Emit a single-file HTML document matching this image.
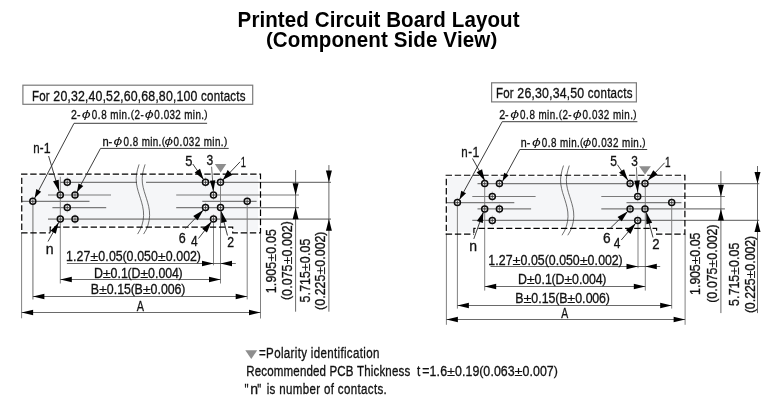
<!DOCTYPE html>
<html lang="en"><head><meta charset="utf-8"><title>Printed Circuit Board Layout</title>
<style>
html,body{margin:0;padding:0;background:#fff;}
body{width:774px;height:406px;overflow:hidden;}
#wrap{width:774px;height:406px;will-change:transform;}
svg{display:block;}
text{font-family:"Liberation Sans",sans-serif;white-space:pre;}
</style></head><body><div id="wrap">
<svg width="774" height="406" viewBox="0 0 774 406">
<rect width="774" height="406" fill="#fff"/>
<text transform="translate(237.59,26.55) scale(0.9700,1.000)" x="0.00 14.22 22.55 28.52 41.54 48.68 60.55 73.58 79.55 94.94 100.91 109.24 121.11 134.13 140.10 147.24 153.21 168.60 181.63 193.50 201.82 214.85 220.82 233.85 245.72 257.59 270.62 283.65" font-size="21.20" font-weight="bold" fill="#000">Printed Circuit Board Layout</text>
<text transform="translate(265.89,45.36) scale(0.9700,0.870)" x="0.00" font-size="21.20" font-weight="bold" fill="#000">(</text><text transform="translate(272.83,47.10) scale(0.9700,1.000)" x="0.00 15.40 28.44 47.38 60.42 73.46 86.50 98.38 111.42 118.57 124.55 138.78 144.76 157.80 169.68 175.66 189.89 195.87 207.75" font-size="21.20" font-weight="bold" fill="#000">Component Side View</text><text transform="translate(490.43,45.36) scale(0.9700,0.870)" x="0.00" font-size="21.20" font-weight="bold" fill="#000">)</text>
<path d="M22.95,175.70 H258.10 V230.70 H233.70 V224.95 H49.40 V230.70 H22.95 Z" fill="#f5f6f8"/>
<line x1="60.00" y1="182.30" x2="137.00" y2="182.30" stroke="#7a7a7a" stroke-width="1.15" />
<line x1="146.00" y1="182.30" x2="331.00" y2="182.30" stroke="#7a7a7a" stroke-width="1.15" />
<line x1="48.00" y1="195.00" x2="111.00" y2="195.00" stroke="#7a7a7a" stroke-width="1.15" />
<line x1="176.20" y1="195.00" x2="299.00" y2="195.00" stroke="#7a7a7a" stroke-width="1.15" />
<line x1="22.00" y1="201.30" x2="89.50" y2="201.30" stroke="#7a7a7a" stroke-width="1.15" />
<line x1="202.30" y1="201.30" x2="256.60" y2="201.30" stroke="#7a7a7a" stroke-width="1.15" />
<line x1="52.40" y1="207.60" x2="106.20" y2="207.60" stroke="#7a7a7a" stroke-width="1.15" />
<line x1="176.20" y1="207.60" x2="299.00" y2="207.60" stroke="#7a7a7a" stroke-width="1.15" />
<line x1="48.00" y1="219.10" x2="331.00" y2="219.10" stroke="#999" stroke-width="1.6" />
<line x1="60.30" y1="176.80" x2="60.30" y2="283.50" stroke="#7a7a7a" stroke-width="0.95" />
<line x1="32.90" y1="201.30" x2="32.90" y2="299.40" stroke="#8c8c8c" stroke-width="1.3" />
<line x1="21.60" y1="233.00" x2="21.60" y2="318.30" stroke="#7a7a7a" stroke-width="0.95" />
<line x1="213.50" y1="219.10" x2="213.50" y2="265.30" stroke="#7a7a7a" stroke-width="0.95" />
<line x1="220.50" y1="182.30" x2="220.50" y2="283.50" stroke="#7a7a7a" stroke-width="0.95" />
<line x1="247.20" y1="201.30" x2="247.20" y2="299.40" stroke="#7a7a7a" stroke-width="0.95" />
<line x1="260.50" y1="233.00" x2="260.50" y2="318.50" stroke="#7a7a7a" stroke-width="0.95" />
<path d="M139.10,164.40 C136.80,171.10 135.60,177.10 136.40,183.10 S139.10,194.10 140.50,198.60 S143.80,209.10 143.60,215.60 S141.40,228.60 137.60,234.10" fill="none" stroke="#333" stroke-width="0.7"/>
<path d="M145.10,164.40 C142.80,171.10 141.60,177.10 142.40,183.10 S145.10,194.10 146.50,198.60 S149.80,209.10 149.60,215.60 S147.40,228.60 143.60,234.10" fill="none" stroke="#333" stroke-width="0.7"/>
<path d="M21.05,174.1 H260.5 V232.8 H232.7 V227.05 H50.2 V232.8" fill="none" stroke="#000" stroke-width="1.2" stroke-dasharray="6.4 2.764"/>
<path d="M21.15,232.8 H50.2" fill="none" stroke="#000" stroke-width="1.2" stroke-dasharray="6.4 2.764"/>
<path d="M21.75,177.7 V232.8" fill="none" stroke="#000" stroke-width="1.2" stroke-dasharray="6.4 2.764"/>
<line x1="67.30" y1="177.40" x2="67.30" y2="187.20" stroke="#a0a0a0" stroke-width="0.6"/>
<circle cx="67.30" cy="182.30" r="3.0" fill="#fff" fill-opacity="0.55" stroke="#0a0a0a" stroke-width="1.5"/>
<path d="M65.30,182.30h4M67.30,180.30v4" stroke="#2a2a2a" stroke-width="0.7" fill="none"/>
<line x1="60.30" y1="190.10" x2="60.30" y2="199.90" stroke="#a0a0a0" stroke-width="0.6"/>
<circle cx="60.30" cy="195.00" r="3.0" fill="#fff" fill-opacity="0.55" stroke="#0a0a0a" stroke-width="1.5"/>
<path d="M58.30,195.00h4M60.30,193.00v4" stroke="#2a2a2a" stroke-width="0.7" fill="none"/>
<line x1="75.00" y1="190.10" x2="75.00" y2="199.90" stroke="#a0a0a0" stroke-width="0.6"/>
<circle cx="75.00" cy="195.00" r="3.0" fill="#fff" fill-opacity="0.55" stroke="#0a0a0a" stroke-width="1.5"/>
<path d="M73.00,195.00h4M75.00,193.00v4" stroke="#2a2a2a" stroke-width="0.7" fill="none"/>
<line x1="67.30" y1="202.70" x2="67.30" y2="212.50" stroke="#a0a0a0" stroke-width="0.6"/>
<circle cx="67.30" cy="207.60" r="3.0" fill="#fff" fill-opacity="0.55" stroke="#0a0a0a" stroke-width="1.5"/>
<path d="M65.30,207.60h4M67.30,205.60v4" stroke="#2a2a2a" stroke-width="0.7" fill="none"/>
<line x1="60.30" y1="214.20" x2="60.30" y2="224.00" stroke="#a0a0a0" stroke-width="0.6"/>
<circle cx="60.30" cy="219.10" r="3.0" fill="#fff" fill-opacity="0.55" stroke="#0a0a0a" stroke-width="1.5"/>
<path d="M58.30,219.10h4M60.30,217.10v4" stroke="#2a2a2a" stroke-width="0.7" fill="none"/>
<line x1="75.00" y1="214.20" x2="75.00" y2="224.00" stroke="#a0a0a0" stroke-width="0.6"/>
<circle cx="75.00" cy="219.10" r="3.0" fill="#fff" fill-opacity="0.55" stroke="#0a0a0a" stroke-width="1.5"/>
<path d="M73.00,219.10h4M75.00,217.10v4" stroke="#2a2a2a" stroke-width="0.7" fill="none"/>
<line x1="32.80" y1="196.40" x2="32.80" y2="206.20" stroke="#a0a0a0" stroke-width="0.6"/>
<circle cx="32.80" cy="201.30" r="3.0" fill="#fff" fill-opacity="0.55" stroke="#0a0a0a" stroke-width="1.5"/>
<path d="M30.80,201.30h4M32.80,199.30v4" stroke="#2a2a2a" stroke-width="0.7" fill="none"/>
<line x1="205.50" y1="177.40" x2="205.50" y2="187.20" stroke="#a0a0a0" stroke-width="0.6"/>
<circle cx="205.50" cy="182.30" r="3.0" fill="#fff" fill-opacity="0.55" stroke="#0a0a0a" stroke-width="1.5"/>
<path d="M203.50,182.30h4M205.50,180.30v4" stroke="#2a2a2a" stroke-width="0.7" fill="none"/>
<line x1="220.50" y1="177.40" x2="220.50" y2="187.20" stroke="#a0a0a0" stroke-width="0.6"/>
<circle cx="220.50" cy="182.30" r="3.0" fill="#fff" fill-opacity="0.55" stroke="#0a0a0a" stroke-width="1.5"/>
<path d="M218.50,182.30h4M220.50,180.30v4" stroke="#2a2a2a" stroke-width="0.7" fill="none"/>
<line x1="213.50" y1="190.10" x2="213.50" y2="199.90" stroke="#a0a0a0" stroke-width="0.6"/>
<circle cx="213.50" cy="195.00" r="3.0" fill="#fff" fill-opacity="0.55" stroke="#0a0a0a" stroke-width="1.5"/>
<path d="M211.50,195.00h4M213.50,193.00v4" stroke="#2a2a2a" stroke-width="0.7" fill="none"/>
<line x1="205.50" y1="202.70" x2="205.50" y2="212.50" stroke="#a0a0a0" stroke-width="0.6"/>
<circle cx="205.50" cy="207.60" r="3.0" fill="#fff" fill-opacity="0.55" stroke="#0a0a0a" stroke-width="1.5"/>
<path d="M203.50,207.60h4M205.50,205.60v4" stroke="#2a2a2a" stroke-width="0.7" fill="none"/>
<line x1="220.50" y1="202.70" x2="220.50" y2="212.50" stroke="#a0a0a0" stroke-width="0.6"/>
<circle cx="220.50" cy="207.60" r="3.0" fill="#fff" fill-opacity="0.55" stroke="#0a0a0a" stroke-width="1.5"/>
<path d="M218.50,207.60h4M220.50,205.60v4" stroke="#2a2a2a" stroke-width="0.7" fill="none"/>
<line x1="213.50" y1="214.20" x2="213.50" y2="224.00" stroke="#a0a0a0" stroke-width="0.6"/>
<circle cx="213.50" cy="219.10" r="3.0" fill="#fff" fill-opacity="0.55" stroke="#0a0a0a" stroke-width="1.5"/>
<path d="M211.50,219.10h4M213.50,217.10v4" stroke="#2a2a2a" stroke-width="0.7" fill="none"/>
<line x1="247.20" y1="196.40" x2="247.20" y2="206.20" stroke="#a0a0a0" stroke-width="0.6"/>
<circle cx="247.20" cy="201.30" r="3.0" fill="#fff" fill-opacity="0.55" stroke="#0a0a0a" stroke-width="1.5"/>
<path d="M245.20,201.30h4M247.20,199.30v4" stroke="#2a2a2a" stroke-width="0.7" fill="none"/>
<polyline points="207.10,123.30 74.00,123.30 34.70,198.00" fill="none" stroke="#333" stroke-width="0.95"/>
<polygon points="34.70,198.00 36.27,189.11 41.14,191.67" fill="#000"/>
<polyline points="228.70,148.40 100.50,148.40 77.00,192.00" fill="none" stroke="#333" stroke-width="0.95"/>
<polygon points="77.00,192.00 78.47,183.48 83.31,186.09" fill="#000"/>
<polyline points="48.60,156.00 59.20,191.60" fill="none" stroke="#333" stroke-width="0.95"/>
<polygon points="59.20,191.60 53.06,181.32 58.72,179.64" fill="#000"/>
<polyline points="192.80,164.00 203.60,179.60" fill="none" stroke="#333" stroke-width="0.95"/>
<polygon points="203.60,179.60 194.67,172.41 200.01,168.71" fill="#000"/>
<polyline points="211.60,166.70 213.40,191.60" fill="none" stroke="#444" stroke-width="0.8"/>
<polygon points="213.40,191.60 209.85,180.63 215.34,180.23" fill="#000"/>
<polyline points="240.10,161.80 222.80,180.00" fill="none" stroke="#333" stroke-width="0.95"/>
<polygon points="222.80,180.00 227.64,169.97 232.57,174.66" fill="#000"/>
<polyline points="48.00,241.50 58.80,222.20" fill="none" stroke="#333" stroke-width="0.95"/>
<polygon points="58.80,222.20 55.80,233.70 50.57,230.77" fill="#000"/>
<polyline points="185.50,228.50 203.40,209.90" fill="none" stroke="#333" stroke-width="0.95"/>
<polygon points="203.40,209.90 197.59,220.27 193.26,216.11" fill="#000"/>
<polyline points="198.50,238.50 211.60,221.60" fill="none" stroke="#333" stroke-width="0.95"/>
<polygon points="211.60,221.60 206.93,232.53 202.18,228.85" fill="#000"/>
<polyline points="227.50,235.50 221.20,211.20" fill="none" stroke="#333" stroke-width="0.95"/>
<polygon points="221.20,211.20 226.99,221.58 221.18,223.08" fill="#000"/>
<polygon points="214.8,164.0 226.3,164.0 220.55,172.6" fill="#8e8e8e"/>
<line x1="60.30" y1="279.50" x2="220.50" y2="279.50" stroke="#444" stroke-width="0.8" />
<polygon points="60.30,279.50 71.80,276.70 71.80,282.30" fill="#000"/>
<polygon points="220.50,279.50 209.00,282.30 209.00,276.70" fill="#000"/>
<line x1="32.90" y1="296.50" x2="247.20" y2="296.50" stroke="#444" stroke-width="0.8" />
<polygon points="32.90,296.50 44.40,293.70 44.40,299.30" fill="#000"/>
<polygon points="247.20,296.50 235.70,299.30 235.70,293.70" fill="#000"/>
<line x1="21.60" y1="312.50" x2="260.50" y2="312.50" stroke="#444" stroke-width="0.8" />
<polygon points="21.60,312.50 33.10,309.70 33.10,315.30" fill="#000"/>
<polygon points="260.50,312.50 249.00,315.30 249.00,309.70" fill="#000"/>
<rect x="22.9" y="85.2" width="229.80" height="19.10" fill="#fff" stroke="#7a7a7a" stroke-width="1.2"/>
<line x1="66.90" y1="263.50" x2="213.50" y2="263.50" stroke="#444" stroke-width="0.8" />
<polygon points="213.50,263.50 202.00,266.30 202.00,260.70" fill="#000"/>
<line x1="213.50" y1="263.50" x2="235.80" y2="263.50" stroke="#444" stroke-width="0.8" />
<polygon points="220.50,263.50 232.00,260.70 232.00,266.30" fill="#000"/>
<line x1="295.60" y1="170.00" x2="295.60" y2="311.70" stroke="#444" stroke-width="0.8" />
<polygon points="295.60,195.00 292.60,183.30 298.60,183.30" fill="#000"/>
<polygon points="295.60,207.60 298.60,219.30 292.60,219.30" fill="#000"/>
<line x1="328.90" y1="165.10" x2="328.90" y2="311.70" stroke="#444" stroke-width="0.8" />
<polygon points="328.90,182.30 325.90,170.60 331.90,170.60" fill="#000"/>
<polygon points="328.90,219.10 331.90,230.80 325.90,230.80" fill="#000"/>
<text transform="translate(31.97,101.00) scale(0.7600,1.000)" x="0.00 9.56 18.28 23.62" font-size="15.20" fill="#111" stroke="#111" stroke-width="0.33">For </text><text transform="translate(53.33,101.00) scale(0.8132,1.000)" x="0.00 8.71" font-size="15.20" fill="#111" stroke="#111" stroke-width="0.33">20</text><text transform="translate(67.50,101.00) scale(0.7600,1.000)" x="0.00" font-size="15.20" fill="#111" stroke="#111" stroke-width="0.33">,</text><text transform="translate(70.91,101.00) scale(0.8132,1.000)" x="0.00 8.71" font-size="15.20" fill="#111" stroke="#111" stroke-width="0.33">32</text><text transform="translate(85.07,101.00) scale(0.7600,1.000)" x="0.00" font-size="15.20" fill="#111" stroke="#111" stroke-width="0.33">,</text><text transform="translate(88.49,101.00) scale(0.8132,1.000)" x="0.00 8.71" font-size="15.20" fill="#111" stroke="#111" stroke-width="0.33">40</text><text transform="translate(102.65,101.00) scale(0.7600,1.000)" x="0.00" font-size="15.20" fill="#111" stroke="#111" stroke-width="0.33">,</text><text transform="translate(106.07,101.00) scale(0.8132,1.000)" x="0.00 8.71" font-size="15.20" fill="#111" stroke="#111" stroke-width="0.33">52</text><text transform="translate(120.23,101.00) scale(0.7600,1.000)" x="0.00" font-size="15.20" fill="#111" stroke="#111" stroke-width="0.33">,</text><text transform="translate(123.65,101.00) scale(0.8132,1.000)" x="0.00 8.71" font-size="15.20" fill="#111" stroke="#111" stroke-width="0.33">60</text><text transform="translate(137.81,101.00) scale(0.7600,1.000)" x="0.00" font-size="15.20" fill="#111" stroke="#111" stroke-width="0.33">,</text><text transform="translate(141.23,101.00) scale(0.8132,1.000)" x="0.00 8.71" font-size="15.20" fill="#111" stroke="#111" stroke-width="0.33">68</text><text transform="translate(155.39,101.00) scale(0.7600,1.000)" x="0.00" font-size="15.20" fill="#111" stroke="#111" stroke-width="0.33">,</text><text transform="translate(158.81,101.00) scale(0.8132,1.000)" x="0.00 8.71" font-size="15.20" fill="#111" stroke="#111" stroke-width="0.33">80</text><text transform="translate(172.97,101.00) scale(0.7600,1.000)" x="0.00" font-size="15.20" fill="#111" stroke="#111" stroke-width="0.33">,</text><text transform="translate(176.38,101.00) scale(0.8132,1.000)" x="0.00 8.71 17.42" font-size="15.20" fill="#111" stroke="#111" stroke-width="0.33">100</text><text transform="translate(197.63,101.00) scale(0.7600,1.000)" x="0.00 4.50 12.37 21.09 29.82 34.31 43.04 50.91 55.41" font-size="15.20" fill="#111" stroke="#111" stroke-width="0.33"> contacts</text>
<text transform="translate(71.09,119.10) scale(0.8571,1)" font-size="12.30" font-weight="normal" fill="#111" stroke="#111" stroke-width="0.33">2-</text><text transform="translate(81.78,117.90) scale(1.4354,1)" font-size="11.19" font-weight="normal" font-style="italic" fill="#111">ϕ</text><text transform="translate(91.69,119.10) scale(0.8000,1.000)" x="0.00 7.68 11.93 19.34 23.32 34.13 37.42 44.83" font-size="12.30" fill="#111" stroke="#111" stroke-width="0.33">0.8 min.</text><text transform="translate(130.74,118.09) scale(0.8000,0.870)" x="0.00" font-size="12.30" fill="#111" stroke="#111" stroke-width="0.33">(</text><text transform="translate(134.47,119.10) scale(0.8000,1.000)" x="0.00 7.40" font-size="12.30" fill="#111" stroke="#111" stroke-width="0.33">2-</text><text transform="translate(144.65,117.90) scale(1.4348,1)" font-size="11.19" font-weight="normal" font-style="italic" fill="#111">ϕ</text><text transform="translate(154.33,119.10) scale(0.8000,1.000)" x="0.00 7.57 11.71 19.00 26.29 33.58 37.45 48.15 51.33 58.62" font-size="12.30" fill="#111" stroke="#111" stroke-width="0.33">0.032 min.</text><text transform="translate(204.32,118.09) scale(0.8000,0.870)" x="0.00" font-size="12.30" fill="#111" stroke="#111" stroke-width="0.33">)</text>
<text transform="translate(102.38,145.90) scale(0.9078,1)" font-size="12.30" font-weight="normal" fill="#111" stroke="#111" stroke-width="0.33">n-</text><text transform="translate(113.51,144.70) scale(1.4168,1)" font-size="11.19" font-weight="normal" font-style="italic" fill="#111">ϕ</text><text transform="translate(123.47,145.90) scale(0.8000,1.000)" x="0.00 7.54 11.66 18.92 22.77 33.44 36.59 43.86" font-size="12.30" fill="#111" stroke="#111" stroke-width="0.33">0.8 min.</text><text transform="translate(161.64,144.89) scale(0.8000,0.870)" x="0.00" font-size="12.30" fill="#111" stroke="#111" stroke-width="0.33">(</text><text transform="translate(164.53,144.70) scale(1.3764,1)" font-size="11.19" font-weight="normal" font-style="italic" fill="#111">ϕ</text><text transform="translate(173.47,145.90) scale(0.8000,1.000)" x="0.00 7.63 11.83 19.18 26.53 33.88 37.80 48.56 51.80 59.15" font-size="12.30" fill="#111" stroke="#111" stroke-width="0.33">0.032 min.</text><text transform="translate(223.94,144.89) scale(0.8000,0.870)" x="0.00" font-size="12.30" fill="#111" stroke="#111" stroke-width="0.33">)</text>
<text transform="translate(33.29,152.50) scale(0.7600,1.000)" x="0.00 8.62" font-size="15.20" fill="#111" stroke="#111" stroke-width="0.33">n-</text><text transform="translate(43.82,152.50) scale(0.8132,1.000)" x="0.00" font-size="15.20" fill="#111" stroke="#111" stroke-width="0.33">1</text>
<text transform="translate(185.24,165.50) scale(0.8505,1)" font-size="15.20" font-weight="normal" fill="#111" stroke="#111" stroke-width="0.33">5</text>
<text transform="translate(206.60,165.20) scale(0.7920,1)" font-size="15.20" font-weight="normal" fill="#111" stroke="#111" stroke-width="0.33">3</text>
<text transform="translate(240.69,167.00) scale(0.6132,1)" font-size="15.20" font-weight="normal" fill="#111" stroke="#111" stroke-width="0.33">1</text>
<text transform="translate(178.81,242.60) scale(0.8206,1)" font-size="15.20" font-weight="normal" fill="#111" stroke="#111" stroke-width="0.33">6</text>
<text transform="translate(191.09,246.30) scale(0.7857,1)" font-size="15.20" font-weight="normal" fill="#111" stroke="#111" stroke-width="0.33">4</text>
<text transform="translate(227.22,246.90) scale(0.8077,1)" font-size="15.20" font-weight="normal" fill="#111" stroke="#111" stroke-width="0.33">2</text>
<text transform="translate(45.81,254.40) scale(0.9299,1)" font-size="15.20" font-weight="normal" fill="#111" stroke="#111" stroke-width="0.33">n</text>
<text transform="translate(65.96,261.30) scale(0.8150,1.000)" x="0.00 8.65 13.07 21.45" font-size="15.20" fill="#111" stroke="#111" stroke-width="0.33">1.27</text><text transform="translate(90.27,261.30) scale(0.9617,0.860)" x="0.00" font-size="15.20" fill="#111" stroke="#111" stroke-width="0.13">±</text><text transform="translate(98.23,261.30) scale(0.8150,1.000)" x="0.00 8.65 13.07 21.45" font-size="15.20" fill="#111" stroke="#111" stroke-width="0.33">0.05</text><text transform="translate(122.54,260.05) scale(0.8150,0.870)" x="0.00" font-size="15.20" fill="#111" stroke="#111" stroke-width="0.33">(</text><text transform="translate(126.61,261.30) scale(0.8150,1.000)" x="0.00 8.65 13.07 21.45 29.83" font-size="15.20" fill="#111" stroke="#111" stroke-width="0.33">0.050</text><text transform="translate(157.75,261.30) scale(0.9617,0.860)" x="0.00" font-size="15.20" fill="#111" stroke="#111" stroke-width="0.13">±</text><text transform="translate(165.71,261.30) scale(0.8150,1.000)" x="0.00 8.65 13.07 21.45 29.83" font-size="15.20" fill="#111" stroke="#111" stroke-width="0.33">0.002</text><text transform="translate(196.85,260.05) scale(0.8150,0.870)" x="0.00" font-size="15.20" fill="#111" stroke="#111" stroke-width="0.33">)</text>
<text transform="translate(93.92,277.90) scale(0.8150,1.000)" x="0.00" font-size="15.20" fill="#111" stroke="#111" stroke-width="0.33">D</text><text transform="translate(102.67,277.90) scale(0.9617,0.860)" x="0.00" font-size="15.20" fill="#111" stroke="#111" stroke-width="0.13">±</text><text transform="translate(110.50,277.90) scale(0.8150,1.000)" x="0.00 8.49 12.75" font-size="15.20" fill="#111" stroke="#111" stroke-width="0.33">0.1</text><text transform="translate(127.59,276.65) scale(0.8150,0.870)" x="0.00" font-size="15.20" fill="#111" stroke="#111" stroke-width="0.33">(</text><text transform="translate(131.53,277.90) scale(0.8150,1.000)" x="0.00" font-size="15.20" fill="#111" stroke="#111" stroke-width="0.33">D</text><text transform="translate(140.28,277.90) scale(0.9617,0.860)" x="0.00" font-size="15.20" fill="#111" stroke="#111" stroke-width="0.13">±</text><text transform="translate(148.12,277.90) scale(0.8150,1.000)" x="0.00 8.49 12.75 20.97 29.19" font-size="15.20" fill="#111" stroke="#111" stroke-width="0.33">0.004</text><text transform="translate(178.60,276.65) scale(0.8150,0.870)" x="0.00" font-size="15.20" fill="#111" stroke="#111" stroke-width="0.33">)</text>
<text transform="translate(90.83,294.30) scale(0.8150,1.000)" x="0.00" font-size="15.20" fill="#111" stroke="#111" stroke-width="0.33">B</text><text transform="translate(98.92,294.30) scale(0.9617,0.860)" x="0.00" font-size="15.20" fill="#111" stroke="#111" stroke-width="0.13">±</text><text transform="translate(106.78,294.30) scale(0.8150,1.000)" x="0.00 8.52 12.81 21.06" font-size="15.20" fill="#111" stroke="#111" stroke-width="0.33">0.15</text><text transform="translate(130.66,293.05) scale(0.8150,0.870)" x="0.00" font-size="15.20" fill="#111" stroke="#111" stroke-width="0.33">(</text><text transform="translate(134.62,294.30) scale(0.8150,1.000)" x="0.00" font-size="15.20" fill="#111" stroke="#111" stroke-width="0.33">B</text><text transform="translate(142.72,294.30) scale(0.9617,0.860)" x="0.00" font-size="15.20" fill="#111" stroke="#111" stroke-width="0.13">±</text><text transform="translate(150.57,294.30) scale(0.8150,1.000)" x="0.00 8.52 12.81 21.06 29.30" font-size="15.20" fill="#111" stroke="#111" stroke-width="0.33">0.006</text><text transform="translate(181.18,293.05) scale(0.8150,0.870)" x="0.00" font-size="15.20" fill="#111" stroke="#111" stroke-width="0.33">)</text>
<text transform="translate(136.72,310.70) scale(0.7133,1)" font-size="15.20" font-weight="normal" fill="#111" stroke="#111" stroke-width="0.33">A</text>
<g transform="translate(276.40,292.39) rotate(-90)"><text transform="translate(-0.94,0.00) scale(0.8150,1.000)" x="0.00 8.74 13.26 21.73 30.20" font-size="15.20" fill="#111" stroke="#111" stroke-width="0.33">1.905</text><text transform="translate(30.58,0.00) scale(0.9617,0.860)" x="0.00" font-size="15.20" fill="#111" stroke="#111" stroke-width="0.13">±</text><text transform="translate(38.62,0.00) scale(0.8150,1.000)" x="0.00 8.74 13.26 21.73" font-size="15.20" fill="#111" stroke="#111" stroke-width="0.33">0.05</text></g>
<g transform="translate(291.70,299.20) rotate(-90)"><text transform="translate(-0.77,-1.25) scale(0.8150,0.870)" x="0.00" font-size="15.20" fill="#111" stroke="#111" stroke-width="0.33">(</text><text transform="translate(3.32,0.00) scale(0.8150,1.000)" x="0.00 8.68 13.13 21.54 29.96" font-size="15.20" fill="#111" stroke="#111" stroke-width="0.33">0.075</text><text transform="translate(34.59,0.00) scale(0.9617,0.860)" x="0.00" font-size="15.20" fill="#111" stroke="#111" stroke-width="0.13">±</text><text transform="translate(42.58,0.00) scale(0.8150,1.000)" x="0.00 8.68 13.13 21.54 29.96" font-size="15.20" fill="#111" stroke="#111" stroke-width="0.33">0.002</text><text transform="translate(73.85,-1.25) scale(0.8150,0.870)" x="0.00" font-size="15.20" fill="#111" stroke="#111" stroke-width="0.33">)</text></g>
<g transform="translate(310.10,302.10) rotate(-90)"><text transform="translate(-0.50,0.00) scale(0.8150,1.000)" x="0.00 8.71 13.19 21.63 30.07" font-size="15.20" fill="#111" stroke="#111" stroke-width="0.33">5.715</text><text transform="translate(30.89,0.00) scale(0.9617,0.860)" x="0.00" font-size="15.20" fill="#111" stroke="#111" stroke-width="0.13">±</text><text transform="translate(38.90,0.00) scale(0.8150,1.000)" x="0.00 8.71 13.19 21.63" font-size="15.20" fill="#111" stroke="#111" stroke-width="0.33">0.05</text></g>
<g transform="translate(325.20,309.14) rotate(-90)"><text transform="translate(-0.77,-1.25) scale(0.8150,0.870)" x="0.00" font-size="15.20" fill="#111" stroke="#111" stroke-width="0.33">(</text><text transform="translate(3.29,0.00) scale(0.8150,1.000)" x="0.00 8.64 13.06 21.43 29.80" font-size="15.20" fill="#111" stroke="#111" stroke-width="0.33">0.225</text><text transform="translate(34.41,0.00) scale(0.9617,0.860)" x="0.00" font-size="15.20" fill="#111" stroke="#111" stroke-width="0.13">±</text><text transform="translate(42.36,0.00) scale(0.8150,1.000)" x="0.00 8.64 13.06 21.43 29.80" font-size="15.20" fill="#111" stroke="#111" stroke-width="0.33">0.002</text><text transform="translate(73.48,-1.25) scale(0.8150,0.870)" x="0.00" font-size="15.20" fill="#111" stroke="#111" stroke-width="0.33">)</text></g>
<path d="M447.50,176.85 H682.50 V232.05 H657.60 V226.30 H473.10 V232.05 H447.50 Z" fill="#f5f6f8"/>
<line x1="477.50" y1="183.60" x2="759.20" y2="183.60" stroke="#7a7a7a" stroke-width="1.15" />
<line x1="472.30" y1="196.45" x2="535.60" y2="196.45" stroke="#7a7a7a" stroke-width="1.15" />
<line x1="601.30" y1="196.45" x2="724.90" y2="196.45" stroke="#7a7a7a" stroke-width="1.15" />
<line x1="446.30" y1="202.60" x2="514.30" y2="202.60" stroke="#7a7a7a" stroke-width="1.15" />
<line x1="626.50" y1="202.60" x2="681.40" y2="202.60" stroke="#7a7a7a" stroke-width="1.15" />
<line x1="477.50" y1="208.90" x2="531.10" y2="208.90" stroke="#7a7a7a" stroke-width="1.15" />
<line x1="601.30" y1="208.90" x2="724.90" y2="208.90" stroke="#7a7a7a" stroke-width="1.15" />
<line x1="472.30" y1="220.40" x2="759.20" y2="220.40" stroke="#7a7a7a" stroke-width="1.15" />
<line x1="484.70" y1="183.60" x2="484.70" y2="290.60" stroke="#7a7a7a" stroke-width="0.95" />
<line x1="457.40" y1="202.60" x2="457.40" y2="308.60" stroke="#7a7a7a" stroke-width="0.95" />
<line x1="446.40" y1="234.00" x2="446.40" y2="324.80" stroke="#7a7a7a" stroke-width="0.95" />
<line x1="638.00" y1="220.40" x2="638.00" y2="268.20" stroke="#7a7a7a" stroke-width="0.95" />
<line x1="645.30" y1="183.60" x2="645.30" y2="290.60" stroke="#7a7a7a" stroke-width="0.95" />
<line x1="671.70" y1="202.60" x2="671.70" y2="308.60" stroke="#7a7a7a" stroke-width="0.95" />
<line x1="685.10" y1="234.00" x2="685.10" y2="324.80" stroke="#7a7a7a" stroke-width="0.95" />
<path d="M563.50,165.55 C561.20,172.25 560.00,178.25 560.80,184.25 S563.50,195.25 564.90,199.75 S568.20,210.25 568.00,216.75 S565.80,229.75 562.00,235.25" fill="none" stroke="#333" stroke-width="0.7"/>
<path d="M569.30,165.55 C567.00,172.25 565.80,178.25 566.60,184.25 S569.30,195.25 570.70,199.75 S574.00,210.25 573.80,216.75 S571.60,229.75 567.80,235.25" fill="none" stroke="#333" stroke-width="0.7"/>
<path d="M445.60,175.25 H684.9 V234.15 H656.6 V228.4 H473.9 V234.15" fill="none" stroke="#000" stroke-width="1.2" stroke-dasharray="6.4 2.764"/>
<path d="M445.70,234.15 H473.9" fill="none" stroke="#000" stroke-width="1.2" stroke-dasharray="6.4 2.764"/>
<path d="M446.3,178.85 V234.15" fill="none" stroke="#000" stroke-width="1.2" stroke-dasharray="6.4 2.764"/>
<line x1="484.70" y1="178.70" x2="484.70" y2="188.50" stroke="#a0a0a0" stroke-width="0.6"/>
<circle cx="484.70" cy="183.60" r="3.0" fill="#fff" fill-opacity="0.55" stroke="#0a0a0a" stroke-width="1.5"/>
<path d="M482.70,183.60h4M484.70,181.60v4" stroke="#2a2a2a" stroke-width="0.7" fill="none"/>
<line x1="499.40" y1="178.70" x2="499.40" y2="188.50" stroke="#a0a0a0" stroke-width="0.6"/>
<circle cx="499.40" cy="183.60" r="3.0" fill="#fff" fill-opacity="0.55" stroke="#0a0a0a" stroke-width="1.5"/>
<path d="M497.40,183.60h4M499.40,181.60v4" stroke="#2a2a2a" stroke-width="0.7" fill="none"/>
<line x1="492.30" y1="191.55" x2="492.30" y2="201.35" stroke="#a0a0a0" stroke-width="0.6"/>
<circle cx="492.30" cy="196.45" r="3.0" fill="#fff" fill-opacity="0.55" stroke="#0a0a0a" stroke-width="1.5"/>
<path d="M490.30,196.45h4M492.30,194.45v4" stroke="#2a2a2a" stroke-width="0.7" fill="none"/>
<line x1="484.70" y1="204.00" x2="484.70" y2="213.80" stroke="#a0a0a0" stroke-width="0.6"/>
<circle cx="484.70" cy="208.90" r="3.0" fill="#fff" fill-opacity="0.55" stroke="#0a0a0a" stroke-width="1.5"/>
<path d="M482.70,208.90h4M484.70,206.90v4" stroke="#2a2a2a" stroke-width="0.7" fill="none"/>
<line x1="499.40" y1="204.00" x2="499.40" y2="213.80" stroke="#a0a0a0" stroke-width="0.6"/>
<circle cx="499.40" cy="208.90" r="3.0" fill="#fff" fill-opacity="0.55" stroke="#0a0a0a" stroke-width="1.5"/>
<path d="M497.40,208.90h4M499.40,206.90v4" stroke="#2a2a2a" stroke-width="0.7" fill="none"/>
<line x1="492.30" y1="215.50" x2="492.30" y2="225.30" stroke="#a0a0a0" stroke-width="0.6"/>
<circle cx="492.30" cy="220.40" r="3.0" fill="#fff" fill-opacity="0.55" stroke="#0a0a0a" stroke-width="1.5"/>
<path d="M490.30,220.40h4M492.30,218.40v4" stroke="#2a2a2a" stroke-width="0.7" fill="none"/>
<line x1="457.40" y1="197.70" x2="457.40" y2="207.50" stroke="#a0a0a0" stroke-width="0.6"/>
<circle cx="457.40" cy="202.60" r="3.0" fill="#fff" fill-opacity="0.55" stroke="#0a0a0a" stroke-width="1.5"/>
<path d="M455.40,202.60h4M457.40,200.60v4" stroke="#2a2a2a" stroke-width="0.7" fill="none"/>
<line x1="630.10" y1="178.70" x2="630.10" y2="188.50" stroke="#a0a0a0" stroke-width="0.6"/>
<circle cx="630.10" cy="183.60" r="3.0" fill="#fff" fill-opacity="0.55" stroke="#0a0a0a" stroke-width="1.5"/>
<path d="M628.10,183.60h4M630.10,181.60v4" stroke="#2a2a2a" stroke-width="0.7" fill="none"/>
<line x1="645.00" y1="178.70" x2="645.00" y2="188.50" stroke="#a0a0a0" stroke-width="0.6"/>
<circle cx="645.00" cy="183.60" r="3.0" fill="#fff" fill-opacity="0.55" stroke="#0a0a0a" stroke-width="1.5"/>
<path d="M643.00,183.60h4M645.00,181.60v4" stroke="#2a2a2a" stroke-width="0.7" fill="none"/>
<line x1="637.70" y1="191.55" x2="637.70" y2="201.35" stroke="#a0a0a0" stroke-width="0.6"/>
<circle cx="637.70" cy="196.45" r="3.0" fill="#fff" fill-opacity="0.55" stroke="#0a0a0a" stroke-width="1.5"/>
<path d="M635.70,196.45h4M637.70,194.45v4" stroke="#2a2a2a" stroke-width="0.7" fill="none"/>
<line x1="630.10" y1="204.00" x2="630.10" y2="213.80" stroke="#a0a0a0" stroke-width="0.6"/>
<circle cx="630.10" cy="208.90" r="3.0" fill="#fff" fill-opacity="0.55" stroke="#0a0a0a" stroke-width="1.5"/>
<path d="M628.10,208.90h4M630.10,206.90v4" stroke="#2a2a2a" stroke-width="0.7" fill="none"/>
<line x1="645.00" y1="204.00" x2="645.00" y2="213.80" stroke="#a0a0a0" stroke-width="0.6"/>
<circle cx="645.00" cy="208.90" r="3.0" fill="#fff" fill-opacity="0.55" stroke="#0a0a0a" stroke-width="1.5"/>
<path d="M643.00,208.90h4M645.00,206.90v4" stroke="#2a2a2a" stroke-width="0.7" fill="none"/>
<line x1="637.70" y1="215.50" x2="637.70" y2="225.30" stroke="#a0a0a0" stroke-width="0.6"/>
<circle cx="637.70" cy="220.40" r="3.0" fill="#fff" fill-opacity="0.55" stroke="#0a0a0a" stroke-width="1.5"/>
<path d="M635.70,220.40h4M637.70,218.40v4" stroke="#2a2a2a" stroke-width="0.7" fill="none"/>
<line x1="671.70" y1="197.70" x2="671.70" y2="207.50" stroke="#a0a0a0" stroke-width="0.6"/>
<circle cx="671.70" cy="202.60" r="3.0" fill="#fff" fill-opacity="0.55" stroke="#0a0a0a" stroke-width="1.5"/>
<path d="M669.70,202.60h4M671.70,200.60v4" stroke="#2a2a2a" stroke-width="0.7" fill="none"/>
<polyline points="637.40,121.70 502.20,121.70 459.50,199.50" fill="none" stroke="#333" stroke-width="0.95"/>
<polygon points="459.50,199.50 461.23,190.64 466.05,193.28" fill="#000"/>
<polyline points="647.20,149.50 519.80,149.50 502.50,181.30" fill="none" stroke="#333" stroke-width="0.95"/>
<polygon points="502.50,181.30 504.13,172.85 508.70,175.34" fill="#000"/>
<polyline points="472.50,158.50 484.90,180.90" fill="none" stroke="#333" stroke-width="0.95"/>
<polygon points="484.90,180.90 476.62,172.34 482.04,169.34" fill="#000"/>
<polyline points="617.40,164.70 628.00,180.40" fill="none" stroke="#333" stroke-width="0.95"/>
<polygon points="628.00,180.40 619.08,172.55 624.05,169.19" fill="#000"/>
<polyline points="636.40,167.30 637.70,192.70" fill="none" stroke="#444" stroke-width="0.8"/>
<polygon points="637.70,192.70 634.28,180.66 639.87,180.37" fill="#000"/>
<polyline points="664.60,162.80 647.50,180.70" fill="none" stroke="#333" stroke-width="0.95"/>
<polygon points="647.50,180.70 653.27,170.31 657.61,174.46" fill="#000"/>
<polyline points="473.80,238.90 483.40,212.00" fill="none" stroke="#333" stroke-width="0.95"/>
<polygon points="483.40,212.00 482.85,223.06 476.82,220.91" fill="#000"/>
<polyline points="610.30,228.20 627.90,211.20" fill="none" stroke="#333" stroke-width="0.95"/>
<polygon points="627.90,211.20 621.71,221.35 617.54,217.03" fill="#000"/>
<polyline points="621.30,240.00 635.70,223.20" fill="none" stroke="#333" stroke-width="0.95"/>
<polygon points="635.70,223.20 630.49,233.88 625.94,229.98" fill="#000"/>
<polyline points="653.00,237.50 646.30,212.30" fill="none" stroke="#333" stroke-width="0.95"/>
<polygon points="646.30,212.30 652.15,222.64 646.36,224.18" fill="#000"/>
<polygon points="639.1,166.2 650.9,166.2 645.0,174.4" fill="#8e8e8e"/>
<line x1="484.70" y1="286.50" x2="645.30" y2="286.50" stroke="#444" stroke-width="0.8" />
<polygon points="484.70,286.50 496.20,283.70 496.20,289.30" fill="#000"/>
<polygon points="645.30,286.50 633.80,289.30 633.80,283.70" fill="#000"/>
<line x1="457.40" y1="305.50" x2="671.70" y2="305.50" stroke="#444" stroke-width="0.8" />
<polygon points="457.40,305.50 468.90,302.70 468.90,308.30" fill="#000"/>
<polygon points="671.70,305.50 660.20,308.30 660.20,302.70" fill="#000"/>
<line x1="446.40" y1="319.50" x2="685.10" y2="319.50" stroke="#444" stroke-width="0.8" />
<polygon points="446.40,319.50 457.90,316.70 457.90,322.30" fill="#000"/>
<polygon points="685.10,319.50 673.60,322.30 673.60,316.70" fill="#000"/>
<rect x="491.6" y="82.8" width="144.80" height="19.10" fill="#fff" stroke="#7a7a7a" stroke-width="1.2"/>
<line x1="490.50" y1="266.50" x2="638.00" y2="266.50" stroke="#444" stroke-width="0.8" />
<polygon points="638.00,266.50 626.50,269.30 626.50,263.70" fill="#000"/>
<line x1="638.00" y1="266.50" x2="660.20" y2="266.50" stroke="#444" stroke-width="0.8" />
<polygon points="645.30,266.50 656.80,263.70 656.80,269.30" fill="#000"/>
<line x1="720.90" y1="171.10" x2="720.90" y2="313.10" stroke="#444" stroke-width="0.8" />
<polygon points="720.90,196.45 717.90,184.75 723.90,184.75" fill="#000"/>
<polygon points="720.90,208.90 723.90,220.60 717.90,220.60" fill="#000"/>
<line x1="757.50" y1="166.00" x2="757.50" y2="313.10" stroke="#444" stroke-width="0.8" />
<polygon points="757.50,183.60 754.50,171.90 760.50,171.90" fill="#000"/>
<polygon points="757.50,220.40 760.50,232.10 754.50,232.10" fill="#000"/>
<text transform="translate(495.95,98.20) scale(0.7600,1.000)" x="0.00 9.58 18.32 23.68" font-size="15.20" fill="#111" stroke="#111" stroke-width="0.33">For </text><text transform="translate(517.37,98.20) scale(0.8132,1.000)" x="0.00 8.73" font-size="15.20" fill="#111" stroke="#111" stroke-width="0.33">26</text><text transform="translate(531.57,98.20) scale(0.7600,1.000)" x="0.00" font-size="15.20" fill="#111" stroke="#111" stroke-width="0.33">,</text><text transform="translate(535.00,98.20) scale(0.8132,1.000)" x="0.00 8.73" font-size="15.20" fill="#111" stroke="#111" stroke-width="0.33">30</text><text transform="translate(549.19,98.20) scale(0.7600,1.000)" x="0.00" font-size="15.20" fill="#111" stroke="#111" stroke-width="0.33">,</text><text transform="translate(552.63,98.20) scale(0.8132,1.000)" x="0.00 8.73" font-size="15.20" fill="#111" stroke="#111" stroke-width="0.33">34</text><text transform="translate(566.82,98.20) scale(0.7600,1.000)" x="0.00" font-size="15.20" fill="#111" stroke="#111" stroke-width="0.33">,</text><text transform="translate(570.25,98.20) scale(0.8132,1.000)" x="0.00 8.73" font-size="15.20" fill="#111" stroke="#111" stroke-width="0.33">50</text><text transform="translate(584.44,98.20) scale(0.7600,1.000)" x="0.00 4.52 12.41 21.15 29.90 34.42 43.16 51.05 55.57" font-size="15.20" fill="#111" stroke="#111" stroke-width="0.33"> contacts</text>
<text transform="translate(499.13,119.20) scale(0.8652,1)" font-size="12.30" font-weight="normal" fill="#111" stroke="#111" stroke-width="0.33">2-</text><text transform="translate(510.16,118.00) scale(1.4332,1)" font-size="11.19" font-weight="normal" font-style="italic" fill="#111">ϕ</text><text transform="translate(519.97,119.20) scale(0.8000,1.000)" x="0.00 7.63 11.84 19.20 23.14 33.90 37.15 44.51" font-size="12.30" fill="#111" stroke="#111" stroke-width="0.33">0.8 min.</text><text transform="translate(558.73,118.19) scale(0.8000,0.870)" x="0.00" font-size="12.30" fill="#111" stroke="#111" stroke-width="0.33">(</text><text transform="translate(562.42,119.20) scale(0.8000,1.000)" x="0.00 7.36" font-size="12.30" fill="#111" stroke="#111" stroke-width="0.33">2-</text><text transform="translate(572.64,118.00) scale(1.4425,1)" font-size="11.19" font-weight="normal" font-style="italic" fill="#111">ϕ</text><text transform="translate(582.46,119.20) scale(0.8000,1.000)" x="0.00 7.68 11.93 19.33 26.73 34.14 38.11 48.92 52.22 59.62" font-size="12.30" fill="#111" stroke="#111" stroke-width="0.33">0.032 min.</text><text transform="translate(633.34,118.19) scale(0.8000,0.870)" x="0.00" font-size="12.30" fill="#111" stroke="#111" stroke-width="0.33">)</text>
<text transform="translate(520.79,146.70) scale(0.8708,1)" font-size="12.30" font-weight="normal" fill="#111" stroke="#111" stroke-width="0.33">n-</text><text transform="translate(531.89,145.50) scale(1.4162,1)" font-size="11.19" font-weight="normal" font-style="italic" fill="#111">ϕ</text><text transform="translate(541.69,146.70) scale(0.8000,1.000)" x="0.00 7.58 11.73 19.04 22.92 33.62 36.82 44.12" font-size="12.30" fill="#111" stroke="#111" stroke-width="0.33">0.8 min.</text><text transform="translate(580.09,145.69) scale(0.8000,0.870)" x="0.00" font-size="12.30" fill="#111" stroke="#111" stroke-width="0.33">(</text><text transform="translate(582.72,145.50) scale(1.3808,1)" font-size="11.19" font-weight="normal" font-style="italic" fill="#111">ϕ</text><text transform="translate(591.69,146.70) scale(0.8000,1.000)" x="0.00 7.65 11.87 19.24 26.62 33.99 37.94 48.72 51.98 59.35" font-size="12.30" fill="#111" stroke="#111" stroke-width="0.33">0.032 min.</text><text transform="translate(642.34,145.69) scale(0.8000,0.870)" x="0.00" font-size="12.30" fill="#111" stroke="#111" stroke-width="0.33">)</text>
<text transform="translate(461.27,156.60) scale(0.7600,1.000)" x="0.00 9.13" font-size="15.20" fill="#111" stroke="#111" stroke-width="0.33">n-</text><text transform="translate(472.58,156.60) scale(0.8132,1.000)" x="0.00" font-size="15.20" fill="#111" stroke="#111" stroke-width="0.33">1</text>
<text transform="translate(610.14,165.60) scale(0.7960,1)" font-size="15.20" font-weight="normal" fill="#111" stroke="#111" stroke-width="0.33">5</text>
<text transform="translate(631.36,165.60) scale(0.7795,1)" font-size="15.20" font-weight="normal" fill="#111" stroke="#111" stroke-width="0.33">3</text>
<text transform="translate(665.07,167.20) scale(0.6583,1)" font-size="15.20" font-weight="normal" fill="#111" stroke="#111" stroke-width="0.33">1</text>
<text transform="translate(603.05,243.10) scale(0.9015,1)" font-size="15.20" font-weight="normal" fill="#111" stroke="#111" stroke-width="0.33">6</text>
<text transform="translate(613.84,248.10) scale(0.7866,1)" font-size="15.20" font-weight="normal" fill="#111" stroke="#111" stroke-width="0.33">4</text>
<text transform="translate(652.36,249.40) scale(0.8664,1)" font-size="15.20" font-weight="normal" fill="#111" stroke="#111" stroke-width="0.33">2</text>
<text transform="translate(469.23,250.80) scale(0.9234,1)" font-size="15.20" font-weight="normal" fill="#111" stroke="#111" stroke-width="0.33">n</text>
<text transform="translate(488.29,265.10) scale(0.8150,1.000)" x="0.00 8.62 13.00 21.35" font-size="15.20" fill="#111" stroke="#111" stroke-width="0.33">1.27</text><text transform="translate(512.49,265.10) scale(0.9617,0.860)" x="0.00" font-size="15.20" fill="#111" stroke="#111" stroke-width="0.13">±</text><text transform="translate(520.43,265.10) scale(0.8150,1.000)" x="0.00 8.62 13.00 21.35" font-size="15.20" fill="#111" stroke="#111" stroke-width="0.33">0.05</text><text transform="translate(544.63,263.85) scale(0.8150,0.870)" x="0.00" font-size="15.20" fill="#111" stroke="#111" stroke-width="0.33">(</text><text transform="translate(548.67,265.10) scale(0.8150,1.000)" x="0.00 8.62 13.00 21.35 29.69" font-size="15.20" fill="#111" stroke="#111" stroke-width="0.33">0.050</text><text transform="translate(579.67,265.10) scale(0.9617,0.860)" x="0.00" font-size="15.20" fill="#111" stroke="#111" stroke-width="0.13">±</text><text transform="translate(587.60,265.10) scale(0.8150,1.000)" x="0.00 8.62 13.00 21.35 29.69" font-size="15.20" fill="#111" stroke="#111" stroke-width="0.33">0.002</text><text transform="translate(618.60,263.85) scale(0.8150,0.870)" x="0.00" font-size="15.20" fill="#111" stroke="#111" stroke-width="0.33">)</text>
<text transform="translate(518.09,284.00) scale(0.8150,1.000)" x="0.00" font-size="15.20" fill="#111" stroke="#111" stroke-width="0.33">D</text><text transform="translate(526.81,284.00) scale(0.9617,0.860)" x="0.00" font-size="15.20" fill="#111" stroke="#111" stroke-width="0.13">±</text><text transform="translate(534.61,284.00) scale(0.8150,1.000)" x="0.00 8.45 12.67" font-size="15.20" fill="#111" stroke="#111" stroke-width="0.33">0.1</text><text transform="translate(551.61,282.75) scale(0.8150,0.870)" x="0.00" font-size="15.20" fill="#111" stroke="#111" stroke-width="0.33">(</text><text transform="translate(555.51,284.00) scale(0.8150,1.000)" x="0.00" font-size="15.20" fill="#111" stroke="#111" stroke-width="0.33">D</text><text transform="translate(564.23,284.00) scale(0.9617,0.860)" x="0.00" font-size="15.20" fill="#111" stroke="#111" stroke-width="0.13">±</text><text transform="translate(572.03,284.00) scale(0.8150,1.000)" x="0.00 8.45 12.67 20.85 29.03" font-size="15.20" fill="#111" stroke="#111" stroke-width="0.33">0.004</text><text transform="translate(602.36,282.75) scale(0.8150,0.870)" x="0.00" font-size="15.20" fill="#111" stroke="#111" stroke-width="0.33">)</text>
<text transform="translate(515.29,303.20) scale(0.8150,1.000)" x="0.00" font-size="15.20" fill="#111" stroke="#111" stroke-width="0.33">B</text><text transform="translate(523.40,303.20) scale(0.9617,0.860)" x="0.00" font-size="15.20" fill="#111" stroke="#111" stroke-width="0.13">±</text><text transform="translate(531.27,303.20) scale(0.8150,1.000)" x="0.00 8.54 12.84 21.11" font-size="15.20" fill="#111" stroke="#111" stroke-width="0.33">0.15</text><text transform="translate(555.21,301.95) scale(0.8150,0.870)" x="0.00" font-size="15.20" fill="#111" stroke="#111" stroke-width="0.33">(</text><text transform="translate(559.19,303.20) scale(0.8150,1.000)" x="0.00" font-size="15.20" fill="#111" stroke="#111" stroke-width="0.33">B</text><text transform="translate(567.30,303.20) scale(0.9617,0.860)" x="0.00" font-size="15.20" fill="#111" stroke="#111" stroke-width="0.13">±</text><text transform="translate(575.17,303.20) scale(0.8150,1.000)" x="0.00 8.54 12.84 21.11 29.38" font-size="15.20" fill="#111" stroke="#111" stroke-width="0.33">0.006</text><text transform="translate(605.85,301.95) scale(0.8150,0.870)" x="0.00" font-size="15.20" fill="#111" stroke="#111" stroke-width="0.33">)</text>
<text transform="translate(561.14,318.30) scale(0.6861,1)" font-size="15.20" font-weight="normal" fill="#111" stroke="#111" stroke-width="0.33">A</text>
<g transform="translate(700.40,294.04) rotate(-90)"><text transform="translate(-0.94,0.00) scale(0.8150,1.000)" x="0.00 8.49 12.76 20.98 29.21" font-size="15.20" fill="#111" stroke="#111" stroke-width="0.33">1.905</text><text transform="translate(29.56,0.00) scale(0.9617,0.860)" x="0.00" font-size="15.20" fill="#111" stroke="#111" stroke-width="0.13">±</text><text transform="translate(37.40,0.00) scale(0.8150,1.000)" x="0.00 8.49 12.76 20.98" font-size="15.20" fill="#111" stroke="#111" stroke-width="0.33">0.05</text></g>
<g transform="translate(716.90,302.00) rotate(-90)"><text transform="translate(-0.77,-1.25) scale(0.8150,0.870)" x="0.00" font-size="15.20" fill="#111" stroke="#111" stroke-width="0.33">(</text><text transform="translate(3.28,0.00) scale(0.8150,1.000)" x="0.00 8.63 13.04 21.40 29.76" font-size="15.20" fill="#111" stroke="#111" stroke-width="0.33">0.075</text><text transform="translate(34.36,0.00) scale(0.9617,0.860)" x="0.00" font-size="15.20" fill="#111" stroke="#111" stroke-width="0.13">±</text><text transform="translate(42.30,0.00) scale(0.8150,1.000)" x="0.00 8.63 13.04 21.40 29.76" font-size="15.20" fill="#111" stroke="#111" stroke-width="0.33">0.002</text><text transform="translate(73.38,-1.25) scale(0.8150,0.870)" x="0.00" font-size="15.20" fill="#111" stroke="#111" stroke-width="0.33">)</text></g>
<g transform="translate(739.00,305.43) rotate(-90)"><text transform="translate(-0.50,0.00) scale(0.8150,1.000)" x="0.00 8.62 13.01 21.36 29.70" font-size="15.20" fill="#111" stroke="#111" stroke-width="0.33">5.715</text><text transform="translate(30.52,0.00) scale(0.9617,0.860)" x="0.00" font-size="15.20" fill="#111" stroke="#111" stroke-width="0.13">±</text><text transform="translate(38.45,0.00) scale(0.8150,1.000)" x="0.00 8.62 13.01 21.36" font-size="15.20" fill="#111" stroke="#111" stroke-width="0.33">0.05</text></g>
<g transform="translate(754.80,312.32) rotate(-90)"><text transform="translate(-0.77,-1.25) scale(0.8150,0.870)" x="0.00" font-size="15.20" fill="#111" stroke="#111" stroke-width="0.33">(</text><text transform="translate(3.19,0.00) scale(0.8150,1.000)" x="0.00 8.51 12.80 21.04 29.28" font-size="15.20" fill="#111" stroke="#111" stroke-width="0.33">0.225</text><text transform="translate(33.77,0.00) scale(0.9617,0.860)" x="0.00" font-size="15.20" fill="#111" stroke="#111" stroke-width="0.13">±</text><text transform="translate(41.62,0.00) scale(0.8150,1.000)" x="0.00 8.51 12.80 21.04 29.28" font-size="15.20" fill="#111" stroke="#111" stroke-width="0.33">0.002</text><text transform="translate(72.20,-1.25) scale(0.8150,0.870)" x="0.00" font-size="15.20" fill="#111" stroke="#111" stroke-width="0.33">)</text></g>
<polygon points="245.3,350.3 257.2,350.3 251.25,358.9" fill="#8e8e8e"/>
<text transform="translate(259.03,358.40) scale(0.7600,1.000)" x="0.00 9.31 19.89 28.78 32.60 41.49 46.99 50.80 55.46 63.50 68.16 71.97 80.87 89.76 98.65 103.31 107.12 111.78 115.60 123.64 132.53 137.19 141.00 149.89" font-size="15.20" fill="#111" stroke="#111" stroke-width="0.33">=Polarity identification</text>
<text transform="translate(246.26,376.10) scale(0.7600,1.000)" x="0.00 11.17 19.81 27.59 36.24 49.09 61.94 70.58 79.22 87.86 96.50 105.14 109.56 119.88 131.05 141.37 145.78 155.26 163.90 167.46 175.25 183.04 191.68 200.32 208.11" font-size="15.20" fill="#111" stroke="#111" stroke-width="0.33">Recommended PCB Thickness</text>  <text transform="translate(417.05,376.10) scale(0.7750,1)" font-size="15.20" font-weight="normal" fill="#111" stroke="#111" stroke-width="0.33">t</text><text transform="translate(422.30,376.10) scale(0.8150,1.000)" x="0.00 8.81 17.46 21.89" font-size="15.20" fill="#111" stroke="#111" stroke-width="0.33">=1.6</text><text transform="translate(446.97,376.10) scale(0.9617,0.860)" x="0.00" font-size="15.20" fill="#111" stroke="#111" stroke-width="0.13">±</text><text transform="translate(454.94,376.10) scale(0.8150,1.000)" x="0.00 8.66 13.08 21.47" font-size="15.20" fill="#111" stroke="#111" stroke-width="0.33">0.19</text><text transform="translate(479.27,374.85) scale(0.8150,0.870)" x="0.00" font-size="15.20" fill="#111" stroke="#111" stroke-width="0.33">(</text><text transform="translate(483.34,376.10) scale(0.8150,1.000)" x="0.00 8.66 13.08 21.47 29.85" font-size="15.20" fill="#111" stroke="#111" stroke-width="0.33">0.063</text><text transform="translate(514.50,376.10) scale(0.9617,0.860)" x="0.00" font-size="15.20" fill="#111" stroke="#111" stroke-width="0.13">±</text><text transform="translate(522.47,376.10) scale(0.8150,1.000)" x="0.00 8.66 13.08 21.47 29.85" font-size="15.20" fill="#111" stroke="#111" stroke-width="0.33">0.007</text><text transform="translate(553.64,374.85) scale(0.8150,0.870)" x="0.00" font-size="15.20" fill="#111" stroke="#111" stroke-width="0.33">)</text>
<text transform="translate(244.51,394.20) scale(0.7515,1)" font-size="15.20" font-weight="normal" fill="#111" stroke="#111" stroke-width="0.33">"</text><text transform="translate(250.23,394.20) scale(0.9234,1)" font-size="15.20" font-weight="normal" fill="#111" stroke="#111" stroke-width="0.33">n</text><text transform="translate(257.35,394.20) scale(0.7351,1)" font-size="15.20" font-weight="normal" fill="#111" stroke="#111" stroke-width="0.33">"</text> <text transform="translate(266.63,394.20) scale(0.7600,1.000)" x="0.00 3.83 11.88 16.56 25.46 34.37 47.48 56.38 65.29 70.80 75.48 84.38 89.06 93.73 101.78 110.69 119.59 124.27 133.17 141.23 145.90 153.95" font-size="15.20" fill="#111" stroke="#111" stroke-width="0.33">is number of contacts.</text>
</svg>
</div></body></html>
